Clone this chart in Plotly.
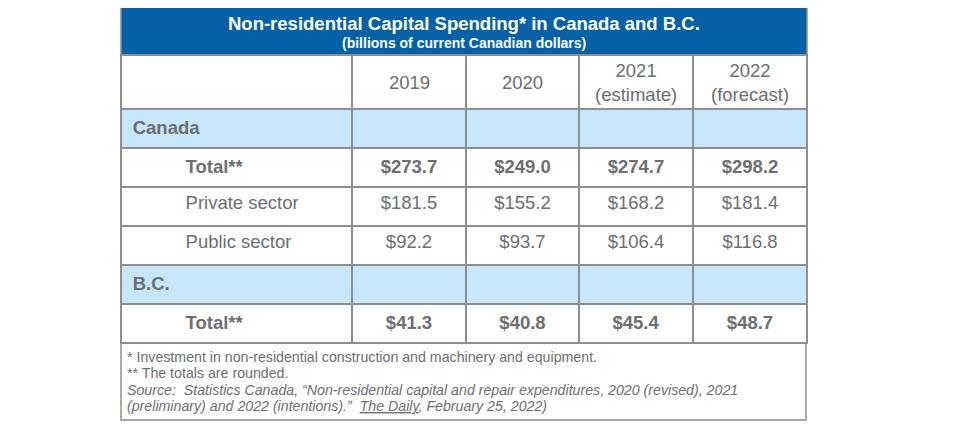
import plotly.graph_objects as go

# table content
row_labels = ['Canada', 'Total**', 'Private sector', 'Public sector', 'B.C.', 'Total**']
years = ['2019', '2020', '2021<br>(estimate)', '2022<br>(forecast)']
v2019 = ['', '$273.7', '$181.5', '$92.2', '', '$41.3']
v2020 = ['', '$249.0', '$155.2', '$93.7', '', '$40.8']
v2021 = ['', '$274.7', '$168.2', '$106.4', '', '$45.4']
v2022 = ['', '$298.2', '$181.4', '$116.8', '', '$48.7']
bold_rows = [0, 1, 4, 5]
region_rows = [0, 4]

title = 'Non-residential Capital Spending* in Canada and B.C.'
subtitle = '(billions of current Canadian dollars)'
notes = [
    '* Investment in non-residential construction and machinery and equipment.',
    '** The totals are rounded.',
    '<i>Source:  Statistics Canada, \u201cNon-residential capital and repair expenditures, 2020 (revised), 2021</i>',
    '<i>(preliminary) and 2022 (intentions).\u201d  <u>The Daily</u>, February 25, 2022)</i>',
]

BLUE = '#0461A8'
LIGHT = '#C6E7FB'
GRID = '#8E8E8E'
TXT = '#6C6E70'
FONT = 'Liberation Sans, Arial, sans-serif'

# page body has an 8px margin, so work in page pixels and shift
OFF = 8
W, H = 944, 420
colw = [231, 114, 113, 114, 114]
x0, x1 = 121, 807
top_tbl = 55
head_h = 54


def px(x):
    return (x - OFF) / W


def py(y):
    return 1 - (y - OFF) / H


def fmt(col, label=False):
    out = []
    for i, v in enumerate(col):
        if label:
            v = ('\u2009' if i in region_rows else '\u00a0' * 11) + v
        if i in bold_rows and v.strip():
            v = '<b>' + v + '</b>'
        out.append(v)
    return out


fills = [LIGHT if i in region_rows else 'white' for i in range(len(row_labels))]

fig = go.Figure(go.Table(
    domain=dict(x=[px(x0), px(x1)], y=[0, py(top_tbl)]),
    columnwidth=colw,
    header=dict(
        values=[''] * 5,
        height=head_h,
        fill_color='white',
        line=dict(color=GRID, width=1.5),
    ),
    cells=dict(
        values=[fmt(row_labels, True), fmt(v2019), fmt(v2020), fmt(v2021), fmt(v2022)],
        height=39,
        fill_color=[fills] * 5,
        line=dict(color=GRID, width=1.5),
        align=['left', 'center', 'center', 'center', 'center'],
        font=dict(family=FONT, size=18.5, color=TXT),
    ),
))

shapes = [
    dict(type='rect', xref='paper', yref='paper', x0=px(x0), x1=px(x1),
         y0=py(55), y1=py(6), fillcolor=BLUE, line=dict(color=GRID, width=1.5), layer='below'),
    dict(type='rect', xref='paper', yref='paper', x0=px(x0), x1=px(806),
         y0=py(420), y1=py(343), fillcolor='rgba(0,0,0,0)', line=dict(color=GRID, width=1.5)),
]

annotations = [
    dict(text='<b>' + title + '</b>', x=px((x0 + x1) / 2), y=py(24), xref='paper', yref='paper',
         showarrow=False, font=dict(family=FONT, size=18.5, color='white'), xanchor='center', yanchor='middle'),
    dict(text='<b>' + subtitle + '</b>', x=px((x0 + x1) / 2), y=py(43), xref='paper', yref='paper',
         showarrow=False, font=dict(family=FONT, size=14, color='white'), xanchor='center', yanchor='middle'),
]

# year labels centred in the header cells
left = x0 + colw[0]
for yr, w in zip(years, colw[1:]):
    annotations.append(dict(text=yr, x=px(left + w / 2), y=py(top_tbl + head_h / 2), xref='paper', yref='paper',
                            showarrow=False, xanchor='center', yanchor='middle', align='center',
                            font=dict(family=FONT, size=18.5, color=TXT)))
    left += w

for t, yy in zip(notes, [357, 373, 390, 406]):
    annotations.append(dict(text=t, x=px(125), y=py(yy), xref='paper', yref='paper', showarrow=False,
                            xanchor='left', yanchor='middle', align='left',
                            font=dict(family=FONT, size=14.2, color=TXT)))

fig.update_layout(
    width=W, height=H,
    margin=dict(l=0, r=0, t=0, b=0),
    paper_bgcolor='white',
    shapes=shapes,
    annotations=annotations,
)

fig.write_html('out.html')
